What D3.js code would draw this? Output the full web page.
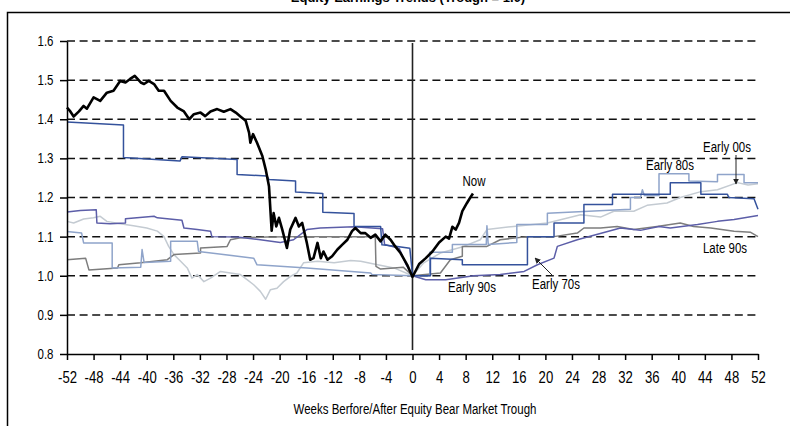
<!DOCTYPE html>
<html lang="en">
<head>
<meta charset="UTF-8">
<title>Equity Earnings Trends</title>
<script src="https://d3js.org/d3.v7.min.js"></script>
<style>
  body { margin: 0; background: #fff; }
  svg { display: block; }
  .narrow { font-family: "Liberation Sans", Arial, sans-serif; }
  .axis path, .axis line { stroke: #000; stroke-width: 1.5; fill: none; }
  .axis text { fill: #000; }
  .grid { stroke: #111; stroke-width: 1.5; stroke-dasharray: 8 4.6; }
  .series { fill: none; stroke-linejoin: round; }
  .lbl { font-size: 14px; fill: #000; }
</style>
</head>
<body>
<svg width="790" height="426"></svg>
<script>
// weeks before/after trough, value scaled to 1.0 at trough
const now = [[-52,1.43],[-51.5,1.42],[-51,1.407],[-50.2,1.42],[-49.5,1.434],[-49,1.427],[-48,1.456],[-47,1.447],[-46,1.468],[-45,1.473],[-44,1.498],[-43.2,1.494],[-42.5,1.503],[-41.8,1.511],[-40.9,1.494],[-40.4,1.49],[-39.7,1.498],[-38.9,1.49],[-38.2,1.473],[-37.4,1.473],[-36.4,1.447],[-35.4,1.43],[-34.4,1.42],[-33.6,1.40],[-32.9,1.413],[-31.9,1.417],[-31.2,1.408],[-30.4,1.42],[-29.4,1.426],[-28.4,1.419],[-27.4,1.426],[-26.6,1.417],[-25.9,1.407],[-25.1,1.396],[-24.6,1.366],[-24.4,1.34],[-24.0,1.362],[-23.4,1.34],[-22.6,1.306],[-22.1,1.272],[-21.6,1.229],[-21.2,1.115],[-20.9,1.16],[-20.5,1.126],[-20.1,1.148],[-19.6,1.118],[-18.9,1.071],[-18.4,1.118],[-17.6,1.148],[-17.1,1.126],[-16.6,1.135],[-15.9,1.084],[-15.4,1.041],[-14.9,1.045],[-14.3,1.084],[-13.8,1.045],[-13.4,1.062],[-12.8,1.041],[-12.1,1.05],[-11.3,1.067],[-10.6,1.079],[-9.8,1.092],[-9.1,1.114],[-8.6,1.122],[-7.8,1.109],[-7.1,1.109],[-6.3,1.097],[-5.6,1.105],[-4.8,1.088],[-4.1,1.105],[-3.3,1.092],[-2.6,1.075],[-1.8,1.058],[-0.8,1.028],[0,0.997],[1,1.03],[2,1.045],[3,1.062],[4,1.085],[5,1.1],[5.5,1.095],[6,1.125],[6.5,1.118],[7,1.135],[7.5,1.165],[8.2,1.186],[8.7,1.2],[9.1,1.21]];

const early70s = [[-52,1.163],[-50,1.167],[-47.6,1.169],[-47.5,1.135],[-45.5,1.133],[-43.2,1.135],[-43.2,1.146],[-38.9,1.152],[-38.4,1.148],[-34.7,1.142],[-34.4,1.122],[-32.4,1.118],[-30.4,1.114],[-30.2,1.10],[-26.4,1.099],[-22.9,1.092],[-19.9,1.085],[-17.9,1.092],[-15.9,1.118],[-13.9,1.122],[-8.8,1.125],[-4.5,1.12],[-4.2,1.08],[-2,1.07],[-1,1.03],[0,1.0],[2,0.99],[5,0.99],[9.2,1.0],[13.2,1.003],[16.8,1.011],[18.8,1.028],[21.3,1.045],[21.8,1.075],[24.8,1.092],[31.3,1.122],[34.3,1.116],[37.1,1.126],[38.8,1.122],[42.9,1.131],[45.9,1.139],[48.4,1.144],[52,1.154]];

const early80s = [[-52,1.113],[-49.8,1.109],[-49.5,1.084],[-45.2,1.084],[-45.2,1.02],[-40.9,1.022],[-40.7,1.067],[-40.4,1.034],[-36.4,1.037],[-36.4,1.088],[-32.4,1.088],[-32.2,1.062],[-23.9,1.045],[-23.4,1.028],[-15.9,1.02],[-6.3,1.007],[-6.1,1.003],[0,1.0],[2.6,1.0],[2.6,1.06],[6,1.06],[6,1.08],[11.1,1.08],[11.2,1.128],[11.4,1.08],[15.7,1.085],[15.7,1.131],[20.3,1.131],[20.3,1.16],[32.8,1.17],[32.8,1.2],[34.3,1.2],[34.6,1.22],[34.9,1.205],[37.1,1.205],[37.1,1.261],[41.6,1.261],[41.6,1.242],[45.9,1.24],[45.9,1.259],[49.9,1.259],[49.9,1.238],[52,1.238]];

const early90s = [[-52,1.393],[-43.5,1.385],[-43.5,1.302],[-35,1.293],[-34.7,1.304],[-26.4,1.297],[-26.4,1.259],[-21.9,1.255],[-21.6,1.246],[-17.6,1.242],[-17.6,1.214],[-13.5,1.21],[-13.5,1.162],[-8.8,1.159],[-8.8,1.126],[-4.8,1.126],[-4.6,1.079],[-2.3,1.075],[-0.4,1.07],[0,1.0],[2.7,1.0],[2.7,1.045],[7.5,1.041],[7.5,1.028],[17.3,1.028],[17.3,1.10],[21.3,1.10],[21.3,1.135],[25.8,1.135],[25.8,1.182],[30.1,1.182],[30.1,1.208],[38.8,1.208],[38.8,1.238],[43.4,1.238],[43.4,1.208],[47.4,1.208],[47.6,1.2],[51.4,1.197],[52,1.17]];

const late90s = [[-52,1.041],[-49.2,1.045],[-48.7,1.015],[-44.4,1.02],[-44.2,1.028],[-40.9,1.033],[-36.9,1.041],[-35.9,1.054],[-31.9,1.058],[-31.9,1.071],[-27.9,1.075],[-27.4,1.092],[-25.9,1.097],[-21.9,1.099],[-16.9,1.10],[-8.8,1.10],[-5.6,1.10],[-5.5,1.024],[-4.8,1.017],[-2.8,1.02],[-1.4,1.022],[0,1.0],[4.2,1.007],[5.7,1.041],[7.5,1.05],[7.5,1.075],[11.2,1.075],[13.2,1.092],[17.3,1.10],[21.3,1.10],[24.8,1.109],[25.8,1.122],[28.3,1.122],[30.8,1.126],[33.3,1.118],[36.8,1.126],[38.8,1.131],[40.3,1.135],[42.3,1.126],[44.9,1.122],[48.4,1.114],[50.9,1.111],[52,1.10]];

const early00s = [[-52,1.139],[-51,1.135],[-49.5,1.145],[-48,1.148],[-47,1.152],[-46,1.139],[-44,1.133],[-42,1.128],[-40,1.122],[-38.4,1.114],[-37.4,1.10],[-36.7,1.075],[-35.9,1.054],[-34.9,1.037],[-33.9,1.02],[-33.2,0.994],[-32.4,1.003],[-31.4,0.985],[-30.4,0.994],[-28.9,1.011],[-27.4,1.007],[-25.9,1.003],[-24.9,0.99],[-23.9,0.977],[-22.9,0.96],[-22.1,0.94],[-21.4,0.964],[-20.4,0.968],[-19.4,0.985],[-18.4,0.998],[-17.4,1.007],[-16.4,1.033],[-14.3,1.037],[-11.8,1.033],[-9.3,1.039],[-7.8,1.037],[-5.8,1.03],[-2.8,1.02],[0,1.0],[1.7,1.033],[4.2,1.058],[7.7,1.075],[10.2,1.092],[11.2,1.118],[15.2,1.126],[20.3,1.135],[25.3,1.156],[28.3,1.15],[30.3,1.165],[33.3,1.165],[35.3,1.18],[38.3,1.186],[40.3,1.2],[43.4,1.215],[45.9,1.22],[48.9,1.238],[50.5,1.232],[52,1.235]];

const xTicks = d3.range(-52, 53, 4);
const yTicks = [0.8, 0.9, 1.0, 1.1, 1.2, 1.3, 1.4, 1.5, 1.6];
const gridValues = [0.9, 1.0, 1.1, 1.2, 1.3, 1.4, 1.5, 1.6];

const svg = d3.select("svg");

const x = d3.scaleLinear().domain([-52, 52]).range([67, 758]);
const y = d3.scaleLinear().domain([0.8, 1.6]).range([354, 41]);

const squeeze = 0.82; // narrow-font look

// frame + clipped title
svg.append("rect")
   .attr("x", 7.5).attr("y", 12.5).attr("width", 800).attr("height", 500)
   .attr("fill", "none").attr("stroke", "#000").attr("stroke-width", 1.5);
svg.append("text")
   .attr("x", 408).attr("y", 2).attr("text-anchor", "middle")
   .attr("font-family", "Arial, 'Liberation Sans', sans-serif")
   .attr("font-weight", "bold").attr("font-size", 13)
   .text("Equity Earnings Trends (Trough = 1.0)");

// dashed grid
svg.append("g").selectAll("line")
   .data(gridValues).join("line")
   .attr("class", "grid")
   .attr("x1", x(-52)).attr("x2", x(52))
   .attr("y1", d => y(d)).attr("y2", d => y(d));

// trough marker
svg.append("line")
   .attr("x1", x(0)).attr("x2", x(0))
   .attr("y1", 43).attr("y2", 350)
   .attr("stroke", "#222").attr("stroke-width", 1.6);

const series = [
  {name: "early00s", data: early00s, color: "#c4cbd2", w: 1.5},
  {name: "late90s", data: late90s, color: "#7d7d7d", w: 1.5},
  {name: "early80s", data: early80s, color: "#8fa4ca", w: 1.5},
  {name: "early70s", data: early70s, color: "#5c5ea8", w: 1.5},
  {name: "early90s", data: early90s, color: "#34529c", w: 1.5},
  {name: "now", data: now, color: "#000", w: 2.6}
];

const line = d3.line().x(d => x(d[0])).y(d => y(d[1]));

svg.append("g").selectAll("path")
   .data(series).join("path")
   .attr("class", "series")
   .attr("stroke", d => d.color)
   .attr("stroke-width", d => d.w)
   .attr("d", d => line(d.data));

// axes
const gx = svg.append("g")
   .attr("class", "axis narrow")
   .attr("transform", "translate(0,354)")
   .call(d3.axisBottom(x).tickValues(xTicks).tickFormat(d => String(d))
           .tickSize(6).tickSizeOuter(0).tickPadding(12));
gx.selectAll("text")
   .attr("font-size", 16)
   .attr("transform", `scale(${squeeze},1)`);

const gy = svg.append("g")
   .attr("class", "axis narrow")
   .attr("transform", "translate(67,0)")
   .call(d3.axisLeft(y).tickValues(yTicks).tickFormat(d3.format(".1f")).tickSize(7).tickSizeOuter(0).tickPadding(6));
gy.selectAll("text")
   .attr("font-size", 14)
   .attr("x", -13.5 / squeeze)
   .attr("transform", `scale(${squeeze},1)`);

svg.append("text")
   .attr("class", "narrow lbl")
   .attr("text-anchor", "middle")
   .attr("transform", `translate(415,414) scale(${squeeze},1)`)
   .text("Weeks Berfore/After Equity Bear Market Trough");

// annotations
const notes = [
  {t: "Now", x: 474, y: 186},
  {t: "Early 90s", x: 472, y: 292},
  {t: "Early 70s", x: 556, y: 289},
  {t: "Early 80s", x: 670, y: 170},
  {t: "Early 00s", x: 727, y: 152},
  {t: "Late 90s", x: 725, y: 253}
];
svg.append("g").selectAll("text")
   .data(notes).join("text")
   .attr("class", "narrow lbl")
   .attr("text-anchor", "middle")
   .attr("transform", d => `translate(${d.x},${d.y}) scale(${squeeze},1)`)
   .text(d => d.t);

svg.append("defs").append("marker")
   .attr("id", "tip").attr("viewBox", "0 0 10 10")
   .attr("refX", 9).attr("refY", 5)
   .attr("markerWidth", 6).attr("markerHeight", 6)
   .attr("orient", "auto")
   .append("path").attr("d", "M0,0L10,5L0,10z").attr("fill", "#222");

const arrows = [[553, 276, 535, 258], [736, 155, 736, 184]];
svg.append("g").selectAll("line")
   .data(arrows).join("line")
   .attr("x1", d => d[0]).attr("y1", d => d[1])
   .attr("x2", d => d[2]).attr("y2", d => d[3])
   .attr("stroke", "#222").attr("stroke-width", 1)
   .attr("marker-end", "url(#tip)");
</script>
</body>
</html>
